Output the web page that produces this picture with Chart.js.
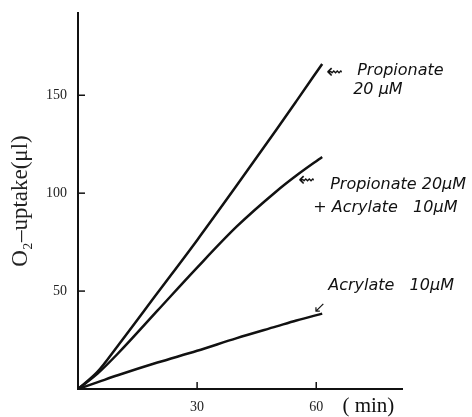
<!DOCTYPE html>
<html>
<head>
<meta charset="utf-8">
<script src="https://cdn.jsdelivr.net/npm/chart.js@4/dist/chart.umd.min.js"></script>
<style>
  html, body { margin: 0; padding: 0; background: #fff; }
  #wrap { width: 472px; height: 417px; }
</style>
</head>
<body>
<div id="wrap"><canvas id="chart"></canvas></div>
<script>
// time (min) and O2 uptake (ul)
const minutes = [0, 5, 10, 20, 30, 40, 50, 55, 61.5]
const propionate = [0, 9, 22, 49, 76, 104, 132.5, 147, 166]
const propAcryl = [0, 8, 18, 40, 62, 83, 101, 109, 118.5]
const acrylate = [0, 3.5, 7, 13.5, 19.5, 26, 32, 35, 38.5]

const yTicks = [50, 100, 150]
const xTicks = [30, 60]

const serif = '"Liberation Serif", "DejaVu Serif", serif'
const hand = '"DejaVu Sans", sans-serif'

function pts(ys) {
  return minutes.map((m, i) => ({x: m, y: ys[i]}))
}

// inward tick marks + handwritten labels
const extras = {
  id: 'extras',
  afterDraw(chart) {
    const ctx = chart.ctx
    const xs = chart.scales.x
    const ys = chart.scales.y
    const x0 = xs.getPixelForValue(0)
    const y0 = ys.getPixelForValue(0)
    ctx.save()
    ctx.strokeStyle = '#111'
    ctx.lineWidth = 1.5
    yTicks.forEach(v => {
      const p = ys.getPixelForValue(v)
      ctx.beginPath(); ctx.moveTo(x0, p); ctx.lineTo(x0 + 7, p); ctx.stroke()
    })
    xTicks.forEach(v => {
      const p = xs.getPixelForValue(v)
      ctx.beginPath(); ctx.moveTo(p, y0); ctx.lineTo(p, y0 - 7); ctx.stroke()
    })

    ctx.fillStyle = '#111'
    ctx.font = '21px ' + serif
    ctx.textBaseline = 'middle'
    ctx.fillText('( min)', xs.getPixelForValue(66.6), 406)

    // labels anchored to the end of each curve
    const last = minutes.length - 1
    const ex = xs.getPixelForValue(minutes[last])
    ctx.textBaseline = 'alphabetic'
    const arrowFont = '20px ' + hand
    const textFont = 'italic 16px ' + hand

    let py = ys.getPixelForValue(propionate[last])
    ctx.font = arrowFont
    ctx.fillText('⇜', ex + 4, py + 14)
    ctx.font = textFont
    ctx.fillText('Propionate', ex + 35, py + 11)
    ctx.fillText('20 μM', ex + 31, py + 30)

    py = ys.getPixelForValue(propAcryl[last])
    ctx.font = arrowFont
    ctx.fillText('⇜', ex - 24, py + 29)
    ctx.font = textFont
    ctx.fillText('Propionate 20μM', ex + 8, py + 32)
    ctx.fillText('+ Acrylate   10μM', ex - 9, py + 55)

    py = ys.getPixelForValue(acrylate[last])
    ctx.font = '15px ' + hand
    ctx.fillText('↙', ex - 9, py - 2)
    ctx.font = textFont
    ctx.fillText('Acrylate   10μM', ex + 6, py - 24)
    ctx.restore()
  }
}

const line = (label, ys) => ({
  label: label,
  data: pts(ys),
  borderColor: '#111',
  borderWidth: 2.5,
  pointRadius: 0,
  fill: false,
  cubicInterpolationMode: 'monotone'
})

new Chart(document.getElementById('chart'), {
  type: 'line',
  data: {
    datasets: [
      line('Propionate 20 uM', propionate),
      line('Propionate 20 uM + Acrylate 10 uM', propAcryl),
      line('Acrylate 10 uM', acrylate)
    ]
  },
  options: {
    responsive: true,
    maintainAspectRatio: false,
    animation: false,
    layout: { padding: { left: 0, top: 13, right: 70, bottom: 0 } },
    plugins: {
      legend: { display: false },
      tooltip: { enabled: false }
    },
    scales: {
      x: {
        type: 'linear',
        min: 0,
        max: 81.6,
        afterBuildTicks: s => { s.ticks = xTicks.map(v => ({value: v})) },
        afterFit: s => { s.height = 28; s.paddingLeft = 0; s.paddingRight = 0 },
        grid: { display: false, drawTicks: false },
        border: { display: true, color: '#111', width: 2 },
        ticks: { color: '#222', padding: 10, font: { family: serif, size: 14 } }
      },
      y: {
        min: 0,
        max: 192,
        afterBuildTicks: s => { s.ticks = yTicks.map(v => ({value: v})) },
        afterFit: s => { s.width = 78; s.paddingTop = 0; s.paddingBottom = 0 },
        grid: { display: false, drawTicks: false },
        border: { display: true, color: '#111', width: 2 },
        ticks: { color: '#222', padding: 11, font: { family: serif, size: 14 } },
        title: {
          display: true,
          text: 'O₂–uptake(μl)',
          color: '#222',
          padding: { top: 7, bottom: 0 },
          font: { family: serif, size: 23 }
        }
      }
    }
  },
  plugins: [extras]
})
</script>
</body>
</html>
